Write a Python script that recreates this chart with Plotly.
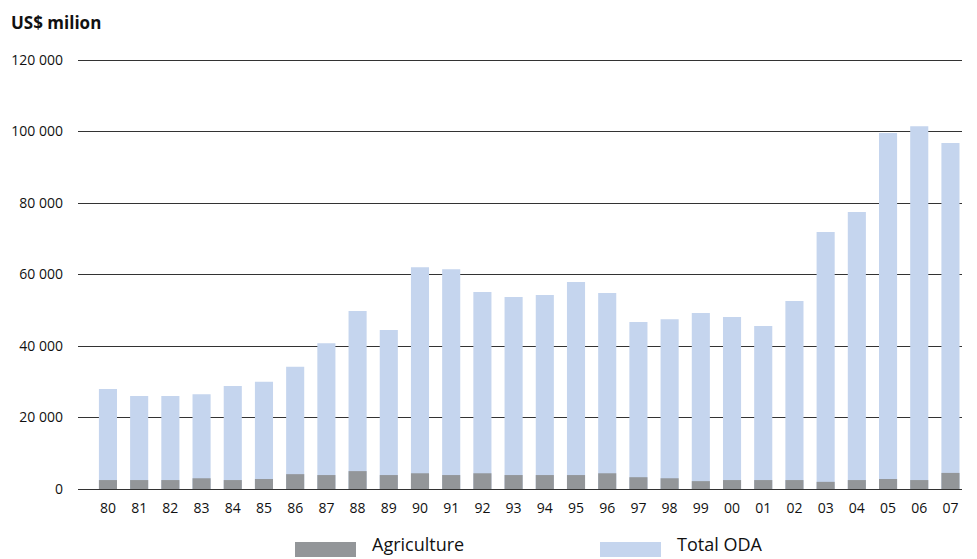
import plotly.graph_objects as go

# ODA flows, US$ million, 1980-2007
years = ["80", "81", "82", "83", "84", "85", "86", "87", "88", "89",
         "90", "91", "92", "93", "94", "95", "96", "97", "98", "99",
         "00", "01", "02", "03", "04", "05", "06", "07"]
total_oda = [28000, 26000, 26000, 26500, 28800, 30000, 34200, 40800, 49800, 44500,
             62000, 61500, 55100, 53700, 54300, 57900, 54800, 46700, 47500, 49200,
             48100, 45600, 52600, 71900, 77500, 99600, 101500, 96800]
agriculture = [2500, 2500, 2500, 3000, 2500, 2800, 4150, 3900, 5000, 3900,
               4400, 3900, 4400, 3900, 3900, 3900, 4400, 3300, 3000, 2200,
               2500, 2500, 2500, 2000, 2500, 2800, 2500, 4500]
y_ticks = [0, 20000, 40000, 60000, 80000, 100000, 120000]
y_tick_text = ["0", "20 000", "40 000", "60 000", "80 000", "100 000", "120 000"]

GREY = "#939699"
BLUE = "#c5d5ee"
FONT = "Open Sans"

x = list(range(len(years)))

# plot area geometry in pixels (a little vertical padding keeps the
# 0 and 120 000 gridlines inside the plotting area)
L, R, T, B = 78, 15, 56, 66
PW, PH = 977 - L - R, 559 - T - B

fig = go.Figure()
fig.add_trace(go.Bar(x=x, y=total_oda, name="Total ODA", marker_color=BLUE,
                     width=0.58, marker_line_width=0))
fig.add_trace(go.Bar(x=x, y=agriculture, name="Agriculture", marker_color=GREY,
                     width=0.58, marker_line_width=0))

fig.update_layout(
    width=977, height=559,
    barmode="overlay",
    showlegend=False,
    plot_bgcolor="white", paper_bgcolor="white",
    margin=dict(l=L, r=R, t=T, b=B),
    font=dict(family=FONT, size=14, color="#111"),
    xaxis=dict(
        tickmode="array", tickvals=x, ticktext=years,
        range=[-0.96, 27.37], showgrid=False, zeroline=False,
        showline=False, ticks="", ticklabelstandoff=5,
        tickfont=dict(size=14),
    ),
    yaxis=dict(
        tickmode="array", tickvals=y_ticks, ticktext=y_tick_text,
        range=[-1120, 121120], showgrid=True, gridcolor="#333333", gridwidth=1.3,
        zeroline=False, showline=False, ticks="", ticklabelstandoff=14,
        tickfont=dict(size=14),
    ),
)


def px_x(px):
    return (px - L) / PW


def px_y(py):
    return (559 - B - py) / PH


# axis title at the top left
fig.add_annotation(text="<b>US$ milion</b>", xref="paper", yref="paper",
                   x=px_x(9), y=px_y(22), xanchor="left", yanchor="middle",
                   showarrow=False, font=dict(size=17, family=FONT, color="#111"))

# legend drawn as swatches with labels below the plot
legend_items = [("Agriculture", GREY, 295), ("Total ODA", BLUE, 600)]
for label, color, left in legend_items:
    fig.add_shape(type="rect", xref="paper", yref="paper",
                  x0=px_x(left), x1=px_x(left + 61),
                  y0=px_y(557), y1=px_y(542), fillcolor=color, line_width=0)
    fig.add_annotation(text=label, xref="paper", yref="paper",
                       x=px_x(left + 75), y=px_y(558),
                       xanchor="left", yanchor="bottom", showarrow=False,
                       font=dict(size=18, family=FONT, color="#111"))

fig.write_html("out.html")
